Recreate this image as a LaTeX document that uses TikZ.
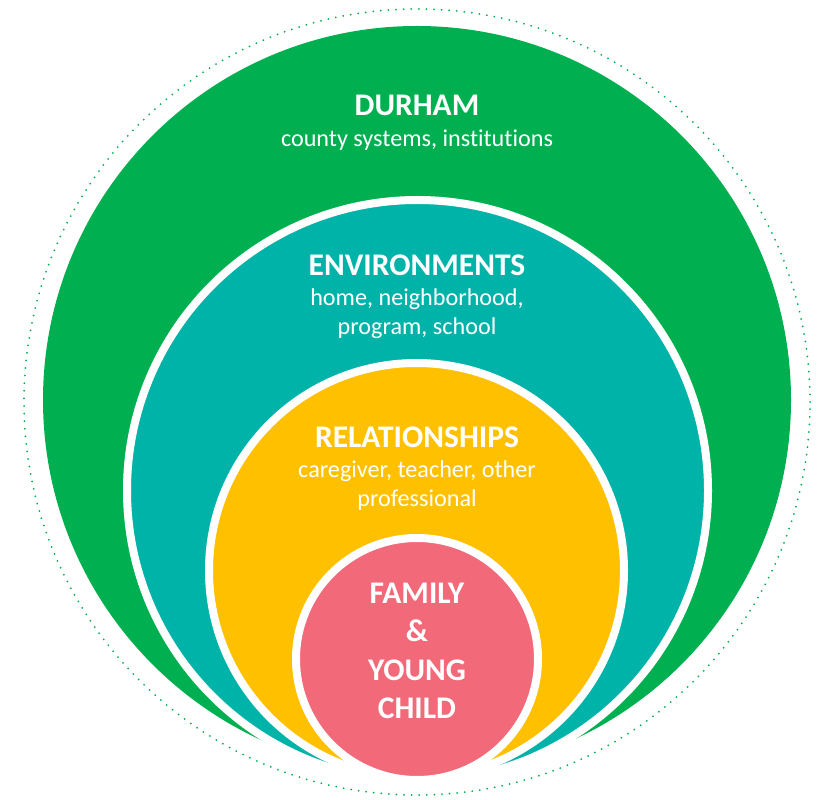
\documentclass[tikz,border=0pt]{standalone}
\usepackage{xcolor}
\usepackage{tikz}
\usepackage{fontspec}
\setmainfont{Carlito}[Ligatures=NoCommon]
\usetikzlibrary{positioning}
\definecolor{durhamgreen}{RGB}{0,176,80}
\definecolor{envteal}{RGB}{0,179,169}
\definecolor{relyellow}{RGB}{255,192,0}
\definecolor{familypink}{RGB}{242,106,121}
\tikzset{
	ring/.style = {
			draw            = white,
			line width      = 2mm,
		},
	title/.style = {
			text = white,
			font = \fontsize{22.4}{27.3}\selectfont\bfseries,
			align = center,
			inner sep = 0pt,
		},
	sub/.style = {
			text = white,
			font = \fontsize{17.2}{20.6}\selectfont,
			align = center,
			inner sep = 0pt,
		}
}

\begin{document}
\begin{tikzpicture}[x=0.25mm, y=0.25mm]
	\useasboundingbox (0,0) rectangle (818,799);

	\draw[durhamgreen, line width=0.5mm, line cap=round, dash pattern=on 0pt off 1.9mm] (417,397) circle (393);
	\fill[durhamgreen] (417,399) circle (374);
	\draw[ring, fill=envteal] (417.5,308.5) circle (290.5);
	\draw[ring, fill=relyellow] (416.5,228.5) circle (207.5);
	\draw[ring, fill=familypink] (417,140) circle (121);

	\node[title] (durham) at (417,694) {DURHAM};
	\node[sub]   (county) at (417,659) {county systems, institutions};
	\node[title] (env)    at (417,534) {ENVIRONMENTS};
	\node[sub]   (home)   at (417,485) {home, neighborhood,\\ program, school};
	\node[title] (rel)    at (417,362) {RELATIONSHIPS};
	\node[sub]   (care)   at (417,313) {caregiver, teacher, other\\ professional};
	\node[title] (family) at (417,148) {FAMILY\\ \&\\ YOUNG\\ CHILD};

\end{tikzpicture}
\end{document}
